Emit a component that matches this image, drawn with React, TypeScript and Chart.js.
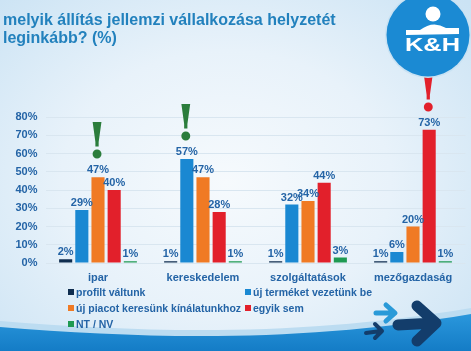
import React, { useEffect, useRef } from "react";
import { Chart, registerables } from "chart.js";

Chart.register(...registerables);

const titleLines = ["melyik állítás jellemzi vállalkozása helyzetét", "leginkább? (%)"];
const categories = ["ipar", "kereskedelem", "szolgáltatások", "mezőgazdaság"];
const seriesNames = [
  "profilt váltunk",
  "új terméket vezetünk be",
  "új piacot keresünk kínálatunkhoz",
  "egyik sem",
  "NT / NV",
];
const profiltValtunk = [2, 1, 1, 1];
const ujTermek = [29, 57, 32, 6];
const ujPiac = [47, 47, 34, 20];
const egyikSem = [40, 28, 44, 73];
const ntNv = [1, 1, 3, 1];
const seriesValues = [profiltValtunk, ujTermek, ujPiac, egyikSem, ntNv];
const seriesColors = ["#0f2d4f", "#1a88d2", "#f07a24", "#e2202b", "#1e9a52"];
const yMax = 80;
const yStep = 10;
// exclamation marks: [category index, series index, colour]
const highlights: [number, number, string][] = [
  [0, 2, "#2b7d3c"],
  [1, 1, "#2b7d3c"],
  [3, 3, "#e2202b"],
];

const FONT = "'Liberation Sans', Arial, sans-serif";
const TEXT_BLUE = "#2464a6";

const labelPlugin = {
  id: "barLabels",
  afterDatasetsDraw(chart: any) {
    const ctx = chart.ctx;
    ctx.save();
    ctx.font = `bold 11px ${FONT}`;
    ctx.fillStyle = TEXT_BLUE;
    ctx.textAlign = "center";
    ctx.textBaseline = "alphabetic";
    chart.data.datasets.forEach((ds: any, i: number) => {
      const meta = chart.getDatasetMeta(i);
      meta.data.forEach((bar: any, j: number) => {
        ctx.fillText(ds.data[j] + "%", bar.x, bar.y - 4);
      });
    });
    ctx.font = `bold 48px 'DejaVu Serif', serif`;
    highlights.forEach(([c, s, col]) => {
      const bar = chart.getDatasetMeta(s).data[c];
      ctx.fillStyle = col;
      ctx.fillText("!", bar.x - 1, bar.y - 19);
    });
    ctx.restore();
  },
};

function ChartCanvas() {
  const ref = useRef<HTMLCanvasElement>(null);
  useEffect(() => {
    if (!ref.current) return;
    const chart = new Chart(ref.current, {
      type: "bar",
      data: {
        labels: categories,
        datasets: seriesNames.map((name, i) => ({
          label: name,
          data: seriesValues[i],
          backgroundColor: seriesColors[i],
          borderWidth: 0,
          categoryPercentage: 0.77,
          barPercentage: 0.81,
        })),
      },
      options: {
        animation: false,
        responsive: false,
        maintainAspectRatio: false,
        layout: { padding: { left: 0, right: 5.5, top: 117, bottom: 68 } },
        plugins: { legend: { display: false }, tooltip: { enabled: false } },
        scales: {
          x: {
            grid: { display: false, drawTicks: false },
            border: { display: false },
            ticks: { font: { family: FONT, size: 11, weight: "bold" }, color: TEXT_BLUE, padding: 8 },
            afterFit: (s: any) => {
              s.height = 20;
            },
          },
          y: {
            min: 0,
            max: yMax,
            ticks: {
              stepSize: yStep,
              callback: (v: any) => v + "%",
              padding: 8,
              font: { family: FONT, size: 11, weight: "bold" },
              color: TEXT_BLUE,
            },
            grid: { color: "#d9e6f0", drawTicks: false, lineWidth: 1 },
            border: { display: false },
            afterFit: (s: any) => {
              s.width = 45.5;
            },
          },
        },
      } as any,
      plugins: [labelPlugin],
    });
    return () => chart.destroy();
  }, []);
  return <canvas ref={ref} width={471} height={351} style={{ position: "absolute", left: 0, top: 0 }} />;
}

const legendPos: [number, number][] = [
  [68, 292],
  [245, 292],
  [68, 308],
  [245, 308],
  [68, 324],
];

export default function App() {
  return (
    <div
      style={{
        position: "fixed",
        left: 0,
        top: 0,
        width: 471,
        height: 351,
        overflow: "hidden",
        background:
          "radial-gradient(ellipse 70% 75% at 48% 52%, #f6fafd 0%, #e8f2fa 50%, #cbe3f4 100%)",
        fontFamily: FONT,
      }}
    >
      <svg width={471} height={351} style={{ position: "absolute", left: 0, top: 0 }}>
        <defs>
          <linearGradient id="wv" x1="0" y1="0" x2="0" y2="1">
            <stop offset="0" stopColor="#2a97dc" />
            <stop offset="1" stopColor="#147cc6" />
          </linearGradient>
        </defs>
        <path d="M0,321 C150,333 300,337 471,308 L471,351 L0,351 Z" fill="#bcdcf1" />
        <path d="M0,327 C150,339 300,343 471,314 L471,351 L0,351 Z" fill="url(#wv)" />
        <g fill="none" strokeLinecap="round" strokeLinejoin="round">
          <path d="M376,313 L394,313 M386,305 L395,313 L386,321" stroke="#2a9ad8" strokeWidth={5} />
          <path d="M366,333 L381,331 M375,324 L382,331 L375,338" stroke="#133d6b" strokeWidth={4} />
          <path d="M398,325 L434,323 M417,306 L436,323 L417,341" stroke="#133d6b" strokeWidth={11} />
        </g>
      </svg>
      <div
        style={{
          position: "absolute",
          left: 3,
          top: 11,
          fontSize: 16,
          lineHeight: "18px",
          fontWeight: "bold",
          color: "#2281bd",
          whiteSpace: "nowrap",
        }}
      >
        {titleLines.map((t, i) => (
          <div key={i}>{t}</div>
        ))}
      </div>
      <ChartCanvas />
      {seriesNames.map((name, i) => (
        <div
          key={i}
          style={{
            position: "absolute",
            left: legendPos[i][0],
            top: legendPos[i][1] - 7,
            height: 14,
            display: "flex",
            alignItems: "center",
            fontSize: 10.5,
            fontWeight: "bold",
            color: TEXT_BLUE,
            whiteSpace: "nowrap",
          }}
        >
          <span style={{ width: 6, height: 6, background: seriesColors[i], marginRight: 2, display: "inline-block" }} />
          {name}
        </div>
      ))}
      <svg width={471} height={351} style={{ position: "absolute", left: 0, top: 0, pointerEvents: "none" }}>
        <circle cx={428} cy={35} r={43} fill="#c9e2f3" />
        <circle cx={428} cy={35} r={41.5} fill="#1b8ad3" />
        <circle cx={433} cy={14} r={7.5} fill="#ffffff" />
        <path d="M406,35 L406,30 L420,30 Q433,20 446,28 L459,28 L459,34 Z" fill="#ffffff" />
        <text
          x={405}
          y={51}
          textLength={55}
          lengthAdjust="spacingAndGlyphs"
          fill="#ffffff"
          fontFamily={FONT}
          fontWeight="bold"
          fontSize={18}
        >
          K&amp;H
        </text>
      </svg>
    </div>
  );
}
